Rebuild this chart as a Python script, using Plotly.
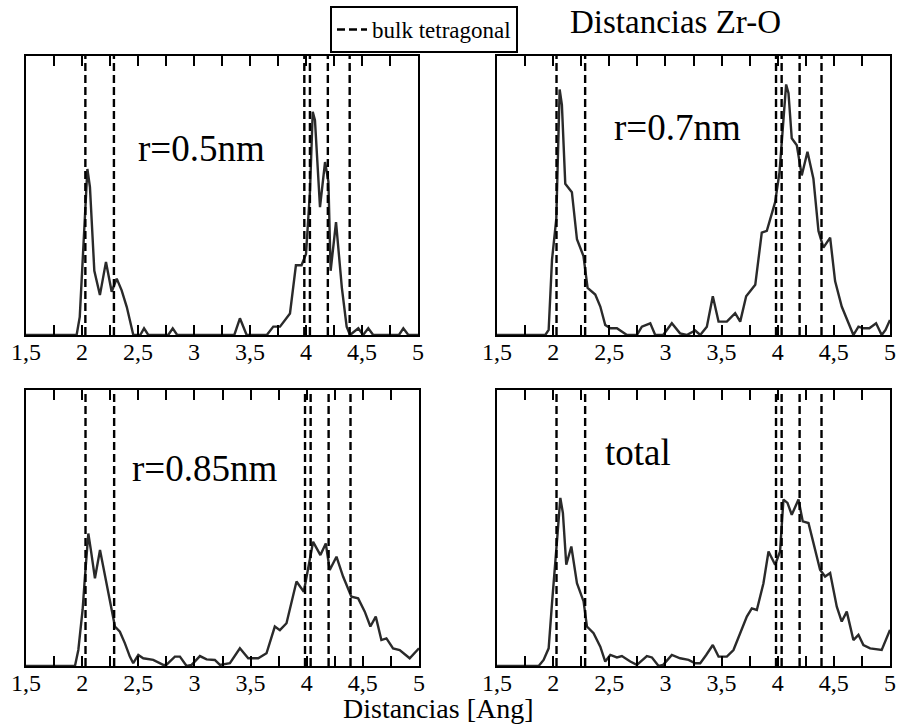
import plotly.graph_objects as go

# Zr-O distance distributions (arbitrary units) for each cluster radius
r05_x = [1.5, 1.952, 1.98, 2.018, 2.048, 2.071, 2.11, 2.16, 2.214, 2.265, 2.31, 2.354, 2.40, 2.458,
         2.52, 2.554, 2.592, 2.77, 2.81, 2.85, 3.36, 3.41, 3.47, 3.65, 3.708, 3.768, 3.857, 3.91,
         3.96, 4.0, 4.036, 4.06, 4.08, 4.125, 4.17, 4.20, 4.22, 4.268, 4.32, 4.363, 4.393, 4.467,
         4.51, 4.556, 4.60, 4.83, 4.869, 4.914, 5.0]
r05_y = [0, 0, 0.065, 0.34, 0.595, 0.53, 0.23, 0.143, 0.262, 0.155, 0.202, 0.16, 0.10, 0,
         0, 0.024, 0, 0, 0.024, 0, 0, 0.06, 0, 0, 0.03, 0.03, 0.077, 0.25,
         0.25, 0.29, 0.518, 0.80, 0.77, 0.458, 0.62, 0.55, 0.23, 0.405, 0.17, 0.03, 0, 0.024,
         0, 0.024, 0, 0, 0.024, 0, 0]

r07_x = [1.5, 1.93, 1.96, 1.99, 2.028, 2.058, 2.078, 2.108, 2.167, 2.212, 2.27, 2.307, 2.375,
         2.42, 2.464, 2.509, 2.568, 2.657, 2.746, 2.79, 2.865, 2.909, 2.98, 3.057, 3.13, 3.19,
         3.265, 3.31, 3.369, 3.422, 3.473, 3.547, 3.621, 3.666, 3.719, 3.8, 3.858, 3.903, 3.977,
         4.016, 4.051, 4.075, 4.096, 4.125, 4.17, 4.214, 4.265, 4.318, 4.363, 4.407, 4.467,
         4.511, 4.57, 4.615, 4.674, 4.719, 4.763, 4.816, 4.876, 4.926, 4.96, 5.0]
r07_y = [0, 0, 0.018, 0.27, 0.416, 0.88, 0.825, 0.542, 0.512, 0.343, 0.283, 0.169, 0.145,
         0.102, 0.036, 0.024, 0.024, 0, 0, 0.03, 0.042, 0, 0, 0.042, 0.006, 0,
         0.016, 0, 0.03, 0.139, 0.048, 0.048, 0.078, 0.048, 0.139, 0.18, 0.367, 0.373, 0.476,
         0.584, 0.771, 0.898, 0.867, 0.705, 0.68, 0.572, 0.657, 0.56, 0.373, 0.313, 0.349,
         0.193, 0.102, 0.06, 0, 0.03, 0.024, 0.024, 0.042, 0, 0.018, 0.054]

r085_x = [1.5, 1.936, 1.966, 2.004, 2.025, 2.055, 2.078, 2.114, 2.159, 2.203, 2.248, 2.292,
          2.336, 2.381, 2.425, 2.455, 2.5, 2.544, 2.633, 2.722, 2.75, 2.826, 2.871, 2.93,
          2.975, 3.049, 3.108, 3.182, 3.227, 3.316, 3.405, 3.479, 3.568, 3.642, 3.716, 3.761,
          3.82, 3.909, 3.974, 4.013, 4.057, 4.122, 4.17, 4.205, 4.265, 4.324, 4.398, 4.458,
          4.517, 4.567, 4.615, 4.665, 4.71, 4.769, 4.828, 4.917, 5.0]
r085_y = [0, 0, 0.058, 0.203, 0.324, 0.48, 0.42, 0.318, 0.42, 0.324, 0.239, 0.143,
          0.124, 0.082, 0.034, 0.01, 0.04, 0.028, 0.022, 0.004, 0.004, 0.034, 0.034, 0,
          0.004, 0.036, 0.024, 0.022, 0.004, 0.01, 0.064, 0.028, 0.028, 0.046, 0.143, 0.13,
          0.155, 0.306, 0.269, 0.36, 0.45, 0.402, 0.444, 0.348, 0.396, 0.324, 0.251, 0.245,
          0.197, 0.143, 0.179, 0.094, 0.1, 0.064, 0.058, 0.028, 0.064]

total_x = [1.5, 1.871, 1.915, 1.96, 1.99, 2.019, 2.04, 2.064, 2.087, 2.117, 2.162, 2.212,
           2.271, 2.301, 2.36, 2.42, 2.464, 2.509, 2.568, 2.612, 2.687, 2.746, 2.835, 2.88,
           2.939, 2.98, 3.057, 3.131, 3.206, 3.265, 3.31, 3.363, 3.422, 3.473, 3.547, 3.606,
           3.666, 3.725, 3.769, 3.814, 3.873, 3.918, 3.977, 4.021, 4.051, 4.087, 4.125, 4.185,
           4.223, 4.274, 4.318, 4.377, 4.422, 4.467, 4.526, 4.57, 4.615, 4.674, 4.719, 4.763,
           4.823, 4.926, 5.0]
total_y = [0, 0, 0.022, 0.064, 0.228, 0.397, 0.482, 0.609, 0.554, 0.367, 0.433, 0.30,
           0.234, 0.143, 0.119, 0.07, 0.016, 0.04, 0.031, 0.036, 0.016, 0.004, 0.036, 0.031,
           0, 0.004, 0.04, 0.028, 0.022, 0.01, 0.01, 0.04, 0.076, 0.034, 0.034, 0.058,
           0.119, 0.179, 0.209, 0.203, 0.30, 0.415, 0.367, 0.415, 0.603, 0.591, 0.548, 0.603,
           0.524, 0.518, 0.446, 0.349, 0.324, 0.337, 0.215, 0.161, 0.197, 0.094, 0.113, 0.076,
           0.064, 0.058, 0.131]

# Zr-O distances of bulk tetragonal zirconia (Ang)
bulk_tetragonal = [2.03, 2.285, 3.985, 4.035, 4.195, 4.39]

panel_labels = ["r=0.5nm", "r=0.7nm", "r=0.85nm", "total"]
panel_x = [r05_x, r07_x, r085_x, total_x]
panel_y = [r05_y, r07_y, r085_y, total_y]
label_pos = [(3.07, 0.668), (3.107, 0.742), (3.094, 0.717), (2.756, 0.772)]

tick_vals = [1.5, 1.75, 2.0, 2.25, 2.5, 2.75, 3.0, 3.25, 3.5, 3.75, 4.0, 4.25, 4.5, 4.75, 5.0]
tick_text = ["1,5", "", "2", "", "2,5", "", "3", "", "3,5", "", "4", "", "4,5", "", "5"]

FONT = "Liberation Serif"
W, H = 897, 726
DASH = "8px,4px"

# panel frames in pixels: (left, right, top, bottom)
frames = [(26, 418, 56, 335), (497, 890, 56, 335), (26, 419, 390, 666), (497, 890, 390, 666)]

fig = go.Figure()
layout = {}
for i, (fx, fy) in enumerate(zip(panel_x, panel_y)):
    n = "" if i == 0 else str(i + 1)
    fig.add_trace(go.Scatter(
        x=fx, y=fy, mode="lines", xaxis="x" + n, yaxis="y" + n,
        line=dict(color="#2a2a2a", width=2.4), showlegend=False, hoverinfo="skip"))
    l, r, t, b = frames[i]
    layout["xaxis" + n] = dict(
        domain=[l / W, r / W], range=[1.5, 5.0], anchor="y" + n,
        tickmode="array", tickvals=tick_vals, ticktext=tick_text,
        ticks="inside", ticklen=10, tickwidth=2, tickcolor="black",
        ticklabelstandoff=-6,
        showline=True, linewidth=2, linecolor="black", mirror="ticks",
        showgrid=False, zeroline=False, automargin=False,
        tickfont=dict(family=FONT, size=24, color="black"))
    layout["yaxis" + n] = dict(
        domain=[1 - b / H, 1 - t / H], range=[0, 1], anchor="x" + n,
        showticklabels=False, ticks="", showline=True, linewidth=2,
        linecolor="black", mirror=True, showgrid=False, zeroline=False,
        automargin=False)

# legend entry for the bulk reference lines
fig.add_trace(go.Scatter(
    x=[None], y=[None], mode="lines", name="bulk tetragonal",
    line=dict(color="black", width=2.4, dash=DASH)))

shapes = []
annotations = []
for i in range(4):
    n = "" if i == 0 else str(i + 1)
    for d in bulk_tetragonal:
        shapes.append(dict(type="line", xref="x" + n, yref="y" + n + " domain",
                           x0=d, x1=d, y0=0, y1=1,
                           line=dict(color="black", width=2.4, dash=DASH)))
    lx, ly = label_pos[i]
    annotations.append(dict(text=panel_labels[i], xref="x" + n, yref="y" + n + " domain",
                            x=lx, y=ly, xanchor="center", yanchor="middle",
                            showarrow=False,
                            font=dict(family=FONT, size=37, color="black")))

annotations.append(dict(text="Distancias Zr-O", xref="paper", yref="paper",
                        x=675 / W, y=1 - 22 / H, xanchor="center", yanchor="middle",
                        showarrow=False,
                        font=dict(family=FONT, size=33, color="black")))
annotations.append(dict(text="Distancias [Ang]", xref="paper", yref="paper",
                        x=438 / W, y=1 - 708 / H, xanchor="center", yanchor="middle",
                        showarrow=False,
                        font=dict(family=FONT, size=28, color="black")))

fig.update_layout(
    width=W, height=H, margin=dict(l=0, r=0, t=0, b=0, autoexpand=False),
    paper_bgcolor="white", plot_bgcolor="white",
    font=dict(family=FONT, color="black"),
    shapes=shapes, annotations=annotations,
    legend=dict(x=330 / W, y=1 - 6 / H, xanchor="left", yanchor="top",
                bordercolor="black", borderwidth=2, bgcolor="white",
                font=dict(family=FONT, size=23, color="black"),
                itemwidth=30, tracegroupgap=0),
    **layout)

fig.write_html("out.html")
